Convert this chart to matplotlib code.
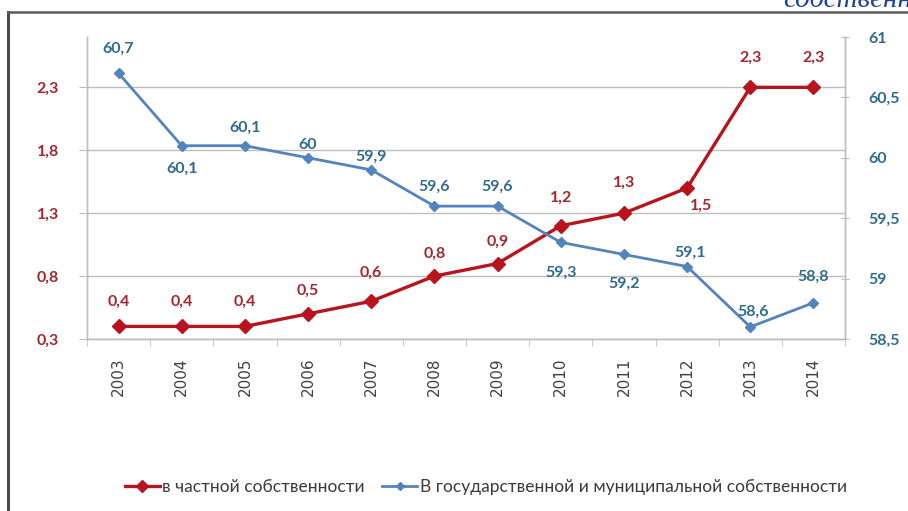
import matplotlib
matplotlib.use("Agg")
import matplotlib.pyplot as plt
from matplotlib.lines import Line2D

# Data
years = ["2003", "2004", "2005", "2006", "2007", "2008", "2009",
         "2010", "2011", "2012", "2013", "2014"]
private = [0.4, 0.4, 0.4, 0.5, 0.6, 0.8, 0.9, 1.2, 1.3, 1.5, 2.3, 2.3]
public = [60.7, 60.1, 60.1, 60.0, 59.9, 59.6, 59.6, 59.3, 59.2, 59.1, 58.6, 58.8]
left_ticks = [0.3, 0.8, 1.3, 1.8, 2.3]
right_ticks = [58.5, 59, 59.5, 60, 60.5, 61]
private_name = "в частной собственности"
public_name = "В государственной и муниципальной собственности"

# label offsets (pixels) for each point
private_off = [(0, 25), (0, 25), (0, 25), (0, 23), (0, 28), (0, 22), (0, 22),
               (0, 28), (0, 30), (14, -18), (0, 30), (0, 30)]
public_off = [(0, 24), (0, -23), (0, 18), (0, 13), (0, 13), (0, 19), (0, 19),
              (0, -30), (0, -29), (3, 14), (3, 15), (0, 26)]

RED = "#b8141e"
RED_TXT = "#a52630"
BLUE = "#5484bd"
BLUE_TXT = "#2f6c8c"
GRID = "#bdbdbd"

plt.rcParams["font.family"] = ["Lato", "DejaVu Sans"]

fig = plt.figure(figsize=(9.08, 5.11), dpi=100)
fig.patch.set_facecolor("white")
ax1 = fig.add_axes([87 / 908, 1 - 339 / 511, (845 - 87) / 908, (339 - 37) / 511])
ax2 = ax1.twinx()

x = list(range(len(years)))

ax1.plot(x, private, color=RED, lw=2.4, marker="D", ms=7, mfc=RED, mec=RED, zorder=3)
ax2.plot(x, public, color=BLUE, lw=2.0, marker="D", ms=5, mfc=BLUE, mec=BLUE, zorder=3)

ax1.set_xlim(-0.5, len(years) - 0.5)
ax1.set_ylim(0.3, 2.7)
ax2.set_ylim(58.5, 61)

ax1.set_yticks(left_ticks)
ax1.set_yticklabels([f"{v:.1f}".replace(".", ",") for v in left_ticks])
ax2.set_yticks(right_ticks)
ax2.set_yticklabels([(f"{v:g}").replace(".", ",") for v in right_ticks])

ax1.set_xticks(x)
ax1.set_xticklabels(years, rotation=90, fontsize=11, color="#404040",
                    family=["DejaVu Sans"])
ax1.set_xticks([i - 0.5 for i in range(len(years) + 1)], minor=True)
ax1.tick_params(axis="x", which="major", length=0, pad=13)
ax1.tick_params(axis="x", which="minor", length=5, color=GRID, direction="out")

ax1.tick_params(axis="y", length=6, color=GRID, labelsize=11.5, labelcolor=RED_TXT, pad=14)
for t in ax1.get_yticklabels():
    t.set_fontweight("bold")
ax2.tick_params(axis="y", length=6, color=GRID, direction="inout",
                labelsize=11.5, labelcolor=BLUE_TXT, pad=14)
for t in ax2.get_yticklabels():
    t.set_fontweight("bold")

ax1.grid(axis="y", color=GRID, lw=1.0)
ax1.set_axisbelow(True)

for ax in (ax1, ax2):
    ax.spines["top"].set_visible(False)
    for s in ("left", "right", "bottom"):
        ax.spines[s].set_color(GRID)
        ax.spines[s].set_linewidth(1.0)

for xi, v, off in zip(x, private, private_off):
    ax1.annotate(f"{v:g}".replace(".", ","), (xi, v), xytext=off,
                 textcoords="offset pixels", ha="center", va="center",
                 fontsize=11.5, fontweight="bold", color=RED_TXT, zorder=5)
for xi, v, off in zip(x, public, public_off):
    ax2.annotate(f"{v:g}".replace(".", ","), (xi, v), xytext=off,
                 textcoords="offset pixels", ha="center", va="center",
                 fontsize=11.5, fontweight="bold", color=BLUE_TXT, zorder=5)

# Legend below the plot
handles = [
    Line2D([], [], color=RED, lw=2.4, marker="D", ms=6),
    Line2D([], [], color=BLUE, lw=2.0, marker="D", ms=4.5),
]
fig.legend(handles, [private_name, public_name], loc="center",
           bbox_to_anchor=(0.535, 0.047), ncol=2, frameon=False,
           fontsize=12.5, labelcolor="#3a3a3a", handlelength=2.0,
           handletextpad=0.15, columnspacing=1.0)

# Page frame and cut-off heading text
fig.add_artist(Line2D([8 / 908, 8 / 908], [0, 1 - 12 / 511], color="#4a4a4a", lw=2.2,
                      transform=fig.transFigure))
fig.add_artist(Line2D([8 / 908, 1], [1 - 12 / 511, 1 - 12 / 511], color="#5a5a5a", lw=1.8,
                      transform=fig.transFigure))
fig.text(783 / 908, 1 - 7 / 511, "собственности", fontsize=21, style="italic",
         color="#23409a", family=["Liberation Serif", "DejaVu Serif"],
         ha="left", va="baseline")

fig.savefig("out.png", dpi=100, facecolor="white")
